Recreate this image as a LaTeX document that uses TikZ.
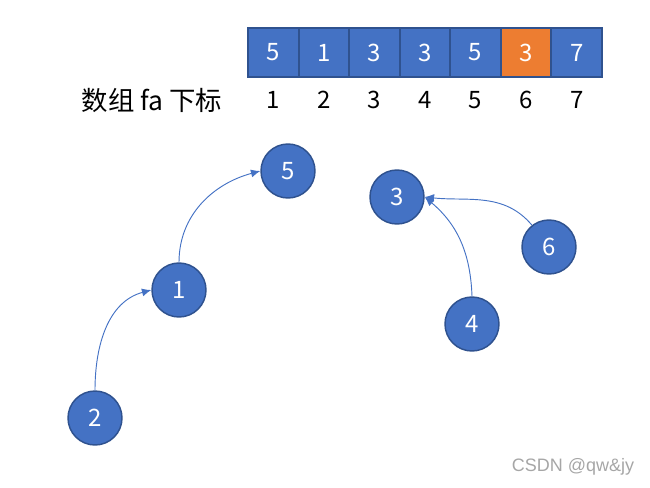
\documentclass[tikz,border=0pt]{standalone}
\usepackage{fontspec}
\usepackage{tikz}
\usetikzlibrary{arrows.meta}
\newfontfamily\cjk{Noto Sans CJK SC}
\newfontfamily\wmfont{Liberation Sans}
\definecolor{fillblue}{HTML}{4472C4}
\definecolor{edgeblue}{HTML}{2F528F}
\definecolor{fillorange}{HTML}{ED7D31}
\definecolor{markgray}{HTML}{A6A6A6}

\begin{document}
\begin{tikzpicture}[
  x=0.75pt, y=-0.75pt,
  cell/.style={
    draw=edgeblue, line width=1.4pt, fill=fillblue, text=white,
    minimum width=37.9pt, minimum height=36.8pt, inner sep=0pt,
    font=\cjk\fontsize{18}{20}\selectfont
  },
  index/.style={
    font=\cjk\fontsize{18}{20}\selectfont
  },
  vertex/.style={
    circle, draw=edgeblue, line width=1.1pt, fill=fillblue, text=white,
    minimum size=40.5pt, inner sep=0pt,
    font=\cjk\fontsize{18}{20}\selectfont
  },
  link/.style={
    draw=fillblue, line width=0.7pt, -{Latex[length=7pt,width=6pt]}
  }
  ]
  \useasboundingbox (0,0) rectangle (650,487);

  % array fa
  \foreach \v [count=\i] in {5,1,3,3,5,3,7} {
    \node [cell] (c\i) at (248+50.57*\i-25.28, 52.5) {\v};
    \node [index] (i\i) at (248+50.57*\i-25.28, 100) {\i};
  }
  \node [cell, fill=fillorange] at (c6) {3};
  \node [index, font=\cjk\fontsize{19.8}{22}\selectfont] (lab) at (152, 100) {数组 fa 下标};

  % trees
  \node [vertex] (n5) at (288, 171) {5};
  \node [vertex] (n1) at (179, 290) {1};
  \node [vertex] (n2) at (95, 418) {2};
  \node [vertex] (n3) at (397, 197) {3};
  \node [vertex] (n6) at (549, 247) {6};
  \node [vertex] (n4) at (472, 324) {4};

  \draw [link] (n2.north) to [out=90, in=195] (n1.west);
  \draw [link] (n1.north) to [out=90, in=195] (n5.west);
  \draw [link] (n4.north) to [out=92, in=-40] (n3.east);
  \draw [link] (n6.128) to [out=130, in=-6] (n3.east);

  \node [text=markgray, font=\wmfont\fontsize{13.5}{15}\selectfont] (mark) at (573, 467) {CSDN @qw\&jy};
\end{tikzpicture}
\end{document}
